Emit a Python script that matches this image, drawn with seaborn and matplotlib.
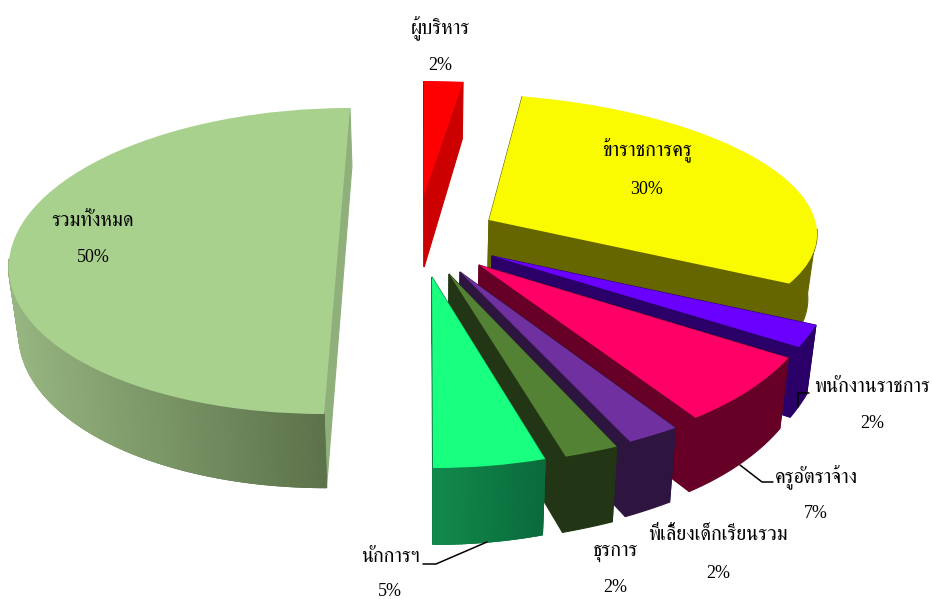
import numpy as np
import matplotlib
matplotlib.use('Agg')
import matplotlib.pyplot as plt
import matplotlib.colors as mcolors
from matplotlib.collections import PolyCollection
from matplotlib.transforms import Affine2D
import seaborn as sns

# ---- data ----
categories = ['ผู้บริหาร', 'ข้าราชการครู', 'พนักงานราชการ', 'ครูอัตราจ้าง',
              'พี่เลี้ยงเด็กเรียนรวม', 'ธุรการ', 'นักการฯ', 'รวมทั้งหมด']
percent = [2, 30, 2, 7, 2, 2, 5, 50]

# ---- styles ----
top_colors = ['#ff0000', '#fafa00', '#6a00ff', '#ff0066', '#7030a0', '#548235', '#19ff80', '#a9d18e']
face_colors = ['#cc0000', '#666600', '#2a0068', '#660026', '#2d1540', '#223514', '#0f7a42', '#8fb07a']
wall_left = ['#cc0000', '#666600', '#2a0068', '#660026', '#2d1540', '#223514', '#128a4c', '#97b681']
wall_right = ['#cc0000', '#666600', '#2a0068', '#660026', '#2d1540', '#223514', '#0a6a3c', '#5c724a']

# layout of the exploded, tilted slices in picture pixels:
# vertex x, vertex y, then the tilt matrix (a, b, c, d) of the unit pie
vertex = [(424, 195), (489, 220), (492, 256), (479, 265), (460, 272), (449, 274), (432, 277), (337, 261)]
tilt = [(312, 0, 0, 114), (328, -8, -11, 126), (342, -34, 14, 192), (341, -40, 8, 186),
        (410, 5, 18, 196), (430, 17, 9, 195), (363, -1, -1, 191), (328, 13, 0, 153)]
vertex_depth = [72, None, None, None, None, None, None, None]
paint_order = [7, 1, 0, 2, 3, 4, 5, 6]

label_pos = [(440, 29, 66), (647, 151, 189), (872, 387, 424), (816, 478, 514),
             (718, 536, 573), (615, 552, 588), (390, 558, 592), (93, 221, 258)]
leaders = [([809, 798, 798], [393, 393, 407]),
           ([773, 762, 740], [482, 482, 465]),
           ([423, 436, 487], [564, 564, 542])]

sns.set_theme(style='white')
plt.rcParams['font.family'] = ['Liberation Serif', 'FreeSerif']

fig = plt.figure(figsize=(9.32, 5.99), dpi=100)
ax = fig.add_axes([0, 0, 1, 1])

wedges, _ = ax.pie(percent, startangle=90, counterclock=False, radius=1,
                   colors=sns.color_palette(top_colors), wedgeprops={'linewidth': 0})
ax.set_aspect('auto')
ax.set_xlim(0, 932)
ax.set_ylim(599, 0)
ax.axis('off')


def project(i, theta):
    t = np.radians(theta)
    cx, cy = vertex[i]
    a, b, c, d = tilt[i]
    return cx + a * np.cos(t) + b * np.sin(t), cy - c * np.cos(t) - d * np.sin(t)


def drop(x, y):
    return x - 0.024 * (x - 430), y + 57 + 0.05 * (y - 82)


for z, i in enumerate(paint_order):
    w = wedges[i]
    cx, cy = vertex[i]
    a, b, c, d = tilt[i]
    w.set_transform(Affine2D.from_values(a, -c, b, -d, cx, cy) + ax.transData)
    w.set_clip_on(False)
    w.set_zorder(10 * z + 3)

    # the two radial faces, behind the outer wall
    vx, vy = drop(cx, cy)
    if vertex_depth[i] is not None:
        vy = cy + vertex_depth[i]
    for th_edge in (w.theta1, w.theta2):
        xe, ye = project(i, th_edge)
        xf, yf = drop(xe, ye)
        ax.fill([cx, xe, xf, vx], [cy, ye, yf, vy], color=face_colors[i], lw=0.8,
                zorder=10 * z + 1)

    # outer wall: only the near part of the rim shows
    th = np.linspace(w.theta1, w.theta2, max(8, int(abs(w.theta2 - w.theta1) * 2)))
    th = th[np.sin(np.radians(th)) < 0.02]
    if len(th) < 2:
        continue
    xt, yt = project(i, th)
    xb, yb = drop(xt, yt)
    ax.fill(np.r_[xt, xb[::-1]], np.r_[yt, yb[::-1]],
            color=wall_left[i] if wall_left[i] == wall_right[i] else wall_right[i],
            lw=0.8, zorder=10 * z + 2)
    if wall_left[i] != wall_right[i]:
        polys = [[(xt[k], yt[k]), (xt[k + 1], yt[k + 1]), (xb[k + 1], yb[k + 1]), (xb[k], yb[k])]
                 for k in range(len(th) - 1)]
        lo, hi = xt.min(), xt.max()
        cl, cr = np.array(mcolors.to_rgb(wall_left[i])), np.array(mcolors.to_rgb(wall_right[i]))
        cols = [cl + (cr - cl) * ((xt[k] - lo) / max(hi - lo, 1)) for k in range(len(th) - 1)]
        ax.add_collection(PolyCollection(polys, facecolors=cols, edgecolors=cols, linewidths=0.9,
                                         zorder=10 * z + 2))

for xs, ys in leaders:
    ax.plot(xs, ys, color='black', lw=1.1, zorder=200)

for name, pct, (x, y1, y2) in zip(categories, percent, label_pos):
    ax.text(x, y1, name, ha='center', va='center', fontsize=14.5, color='black', zorder=210)
    ax.text(x, y2, f'{pct}%', ha='center', va='center', fontsize=13, color='black', zorder=210)

fig.savefig('out.png', dpi=100)
